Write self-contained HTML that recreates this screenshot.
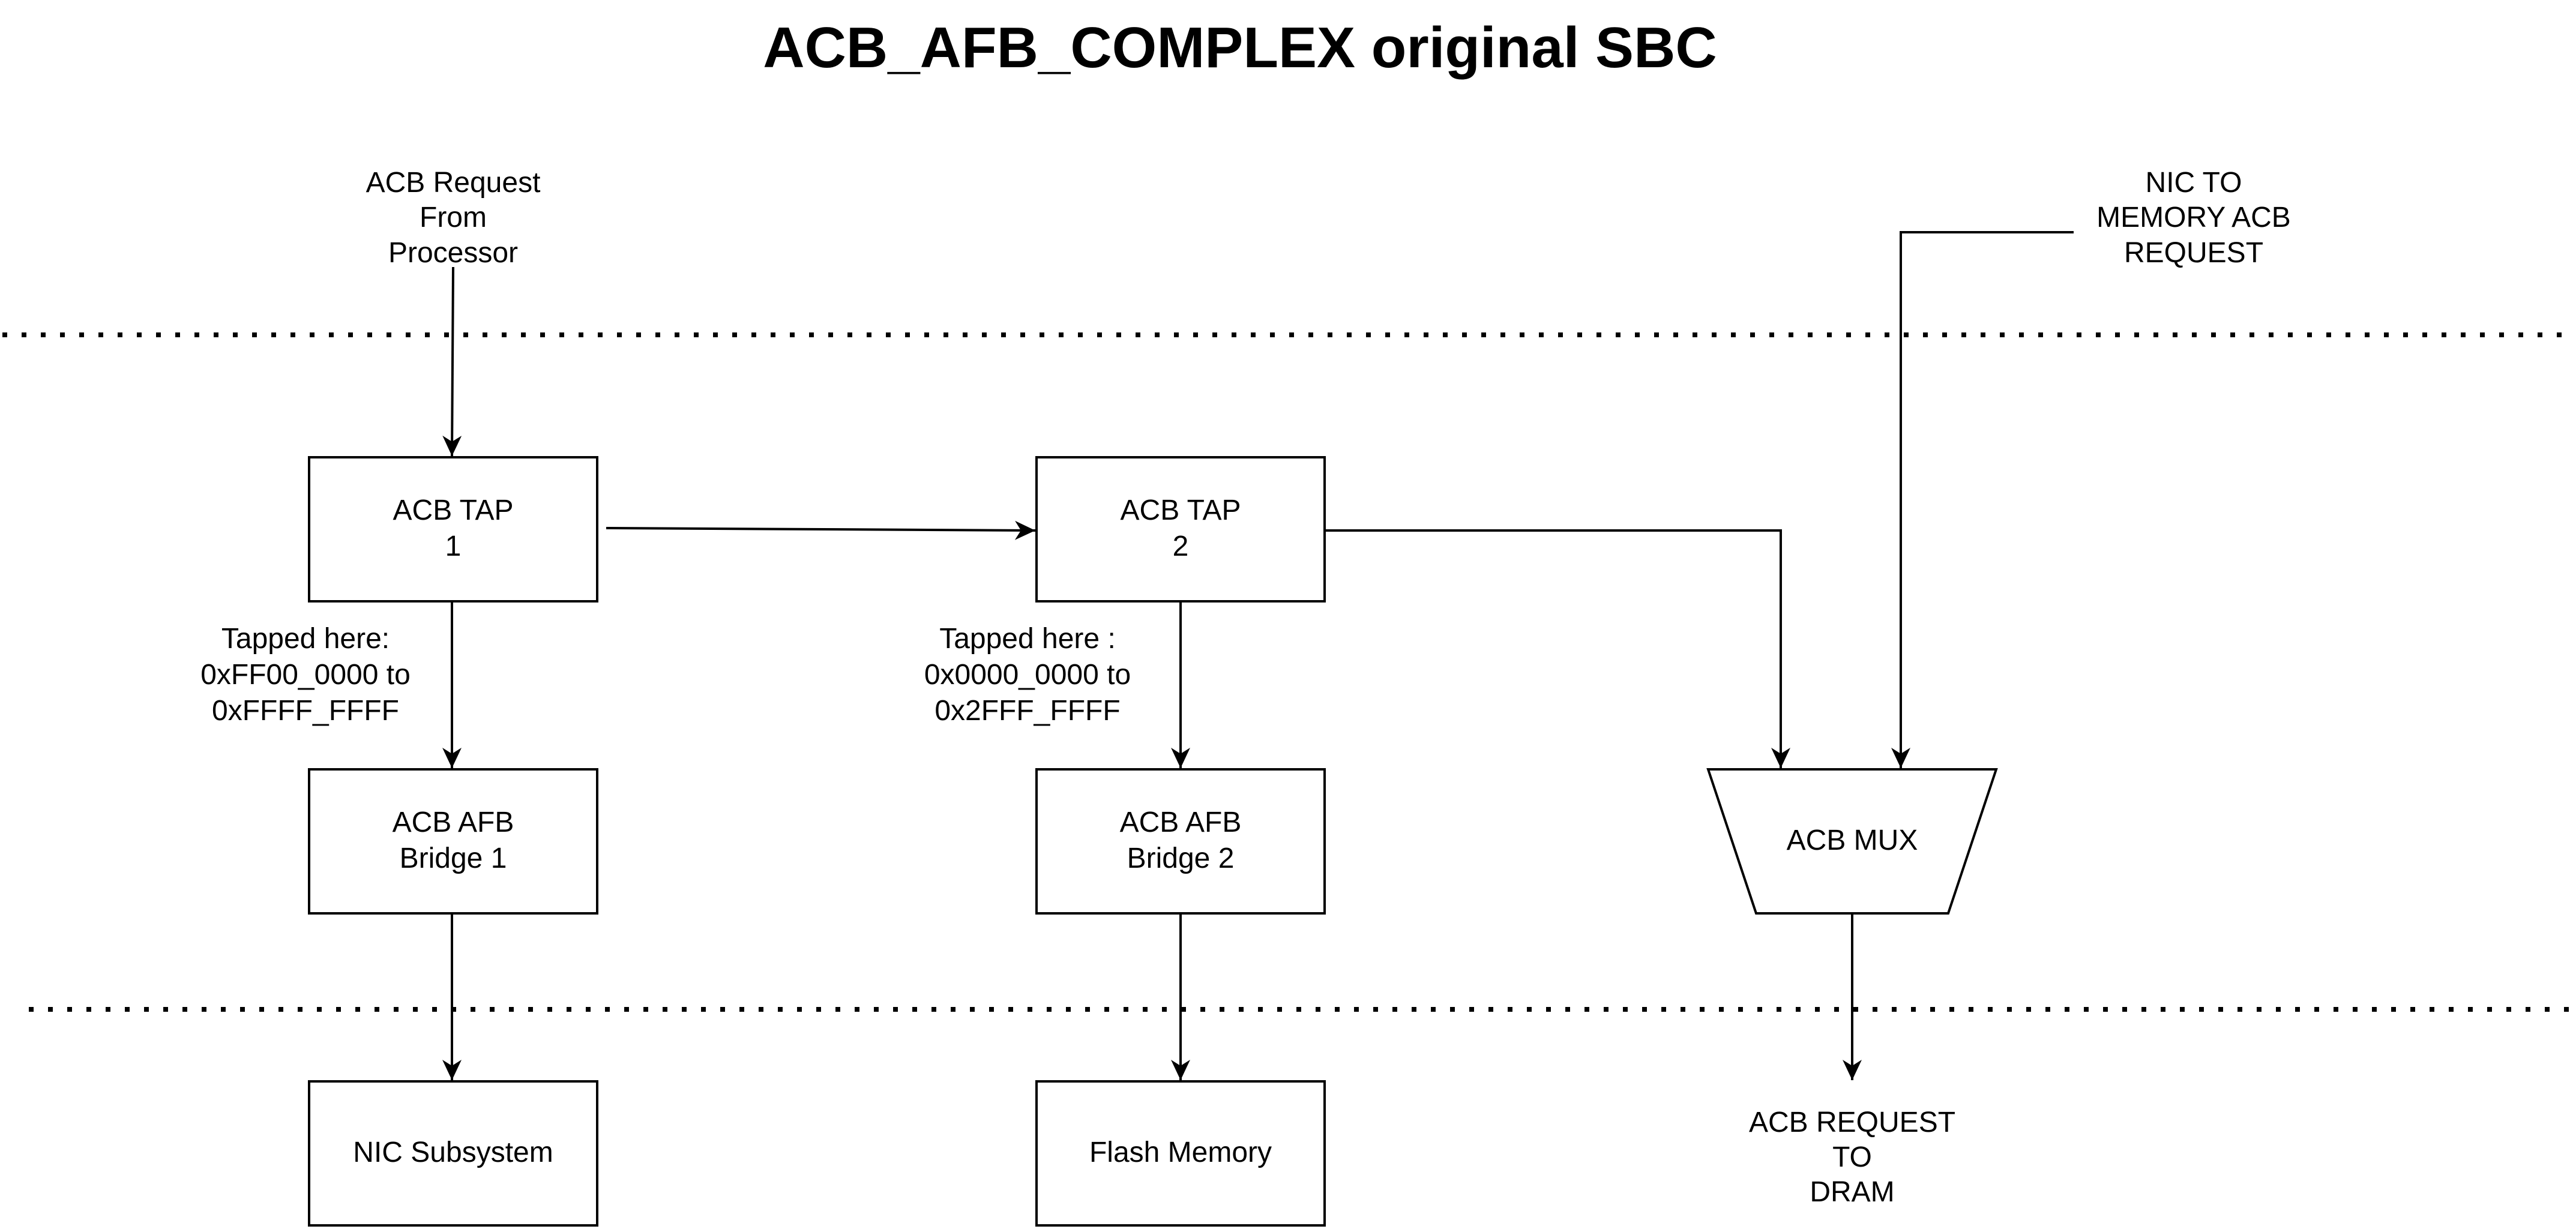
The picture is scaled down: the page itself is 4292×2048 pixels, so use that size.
<!DOCTYPE html>
<html><head><meta charset="utf-8"><style>
html,body{margin:0;padding:0;background:#fff;}
svg{display:block;}
text{font-family:"Liberation Sans",sans-serif;fill:#000;}
</style></head><body>
<svg width="4292" height="2048" viewBox="0 0 4292 2048" xmlns="http://www.w3.org/2000/svg">
<defs>
<marker id="r" markerUnits="userSpaceOnUse" markerWidth="36" markerHeight="32" refX="34" refY="16" orient="auto" viewBox="0 0 36 32">
<path d="M0,0 L34,16 L0,32 L10,16 Z" fill="#000"/>
</marker>
</defs>
<rect width="4292" height="2048" fill="#fff"/>
<text x="2066" y="112" font-size="96" font-weight="bold" text-anchor="middle">ACB_AFB_COMPLEX original SBC</text>

<line x1="4" y1="558" x2="4292" y2="558" stroke="#000" stroke-width="8" stroke-dasharray="8 24"/>
<line x1="48" y1="1682" x2="4292" y2="1682" stroke="#000" stroke-width="8" stroke-dasharray="8 24"/>

<g font-size="48" text-anchor="middle">
<text x="755" y="320">ACB Request</text>
<text x="755" y="378">From</text>
<text x="755" y="437">Processor</text>
<text x="3655" y="320">NIC TO</text>
<text x="3655" y="378">MEMORY ACB</text>
<text x="3655" y="437">REQUEST</text>
<text x="509" y="1080">Tapped here:</text>
<text x="509" y="1140">0xFF00_0000 to</text>
<text x="509" y="1200">0xFFFF_FFFF</text>
<text x="1712" y="1080">Tapped here :</text>
<text x="1712" y="1140">0x0000_0000 to</text>
<text x="1712" y="1200">0x2FFF_FFFF</text>
<text x="3086" y="1886">ACB REQUEST</text>
<text x="3086" y="1944">TO</text>
<text x="3086" y="2002">DRAM</text>
</g>

<g fill="#fff" stroke="#000" stroke-width="4">
<rect x="515" y="762" width="480" height="240"/>
<rect x="1727" y="762" width="480" height="240"/>
<rect x="515" y="1282" width="480" height="240"/>
<rect x="1727" y="1282" width="480" height="240"/>
<rect x="515" y="1802" width="480" height="240"/>
<rect x="1727" y="1802" width="480" height="240"/>
<polygon points="2846,1282 3326,1282 3246,1522 2926,1522"/>
</g>
<g font-size="48" text-anchor="middle">
<text x="755" y="866">ACB TAP</text>
<text x="755" y="926">1</text>
<text x="1967" y="866">ACB TAP</text>
<text x="1967" y="926">2</text>
<text x="755" y="1386">ACB AFB</text>
<text x="755" y="1446">Bridge 1</text>
<text x="1967" y="1386">ACB AFB</text>
<text x="1967" y="1446">Bridge 2</text>
<text x="755" y="1936">NIC Subsystem</text>
<text x="1967" y="1936">Flash Memory</text>
<text x="3086" y="1416">ACB MUX</text>
</g>

<g stroke="#000" stroke-width="4" fill="none">
<line x1="755" y1="445" x2="753" y2="760" marker-end="url(#r)"/>
<line x1="1010" y1="880" x2="1725" y2="884" marker-end="url(#r)"/>
<polyline points="2209,884 2967,884 2967,1280" marker-end="url(#r)"/>
<polyline points="3455,387 3167,387 3167,1280" marker-end="url(#r)"/>
<line x1="753" y1="1003" x2="753" y2="1280" marker-end="url(#r)"/>
<line x1="1967" y1="1003" x2="1967" y2="1280" marker-end="url(#r)"/>
<line x1="753" y1="1523" x2="753" y2="1800" marker-end="url(#r)"/>
<line x1="1967" y1="1523" x2="1967" y2="1800" marker-end="url(#r)"/>
<line x1="3086" y1="1523" x2="3086" y2="1800" marker-end="url(#r)"/>
</g>
</svg>
</body></html>
